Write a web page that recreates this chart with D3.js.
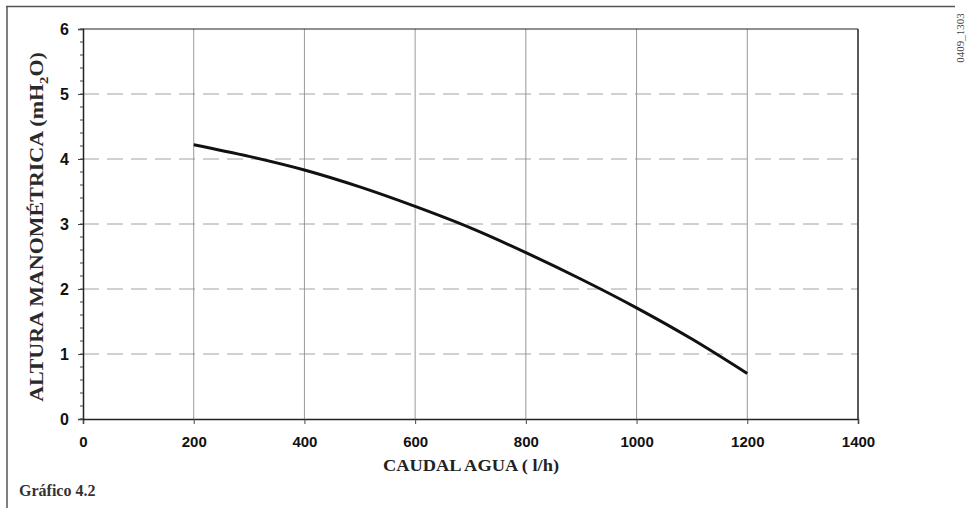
<!DOCTYPE html>
<html><head><meta charset="utf-8">
<script src="https://cdn.jsdelivr.net/npm/d3@7"></script>
<style>body{margin:0;background:#fff}svg{display:block}</style>
</head><body>
<svg id="c" width="974" height="508"></svg>
<script>
const flow = [200, 300, 400, 500, 600, 700, 800, 900, 1000, 1100, 1200];
const head = [4.22, 4.04, 3.83, 3.57, 3.27, 2.94, 2.56, 2.15, 1.71, 1.23, 0.70];
const xTicks = [0, 200, 400, 600, 800, 1000, 1200, 1400];
const yTicks = [0, 1, 2, 3, 4, 5, 6];
const xTitle = "CAUDAL AGUA ( l/h)";
const caption = "Gráfico 4.2";
const code = "0409_1303";

const svg = d3.select("#c");
const x = d3.scaleLinear().domain([0, 1400]).range([83, 858]);
const y = d3.scaleLinear().domain([0, 6]).range([419, 29]);

const serif = "Liberation Serif, Times New Roman, serif";
const sans = "Liberation Sans, Arial, sans-serif";

// outer frame
svg.append("line").attr("x1", 6).attr("x2", 955).attr("y1", 6.5).attr("y2", 6.5).attr("stroke", "#555").attr("stroke-width", 1.5);
svg.append("line").attr("x1", 7).attr("x2", 7).attr("y1", 6).attr("y2", 508).attr("stroke", "#555").attr("stroke-width", 1.5);

// grid
svg.append("g").selectAll("line").data(xTicks.filter(d => d > 0 && d < 1400)).join("line")
  .attr("x1", d => x(d)).attr("x2", d => x(d)).attr("y1", y(6)).attr("y2", y(0))
  .attr("stroke", "#808080").attr("stroke-width", 0.8);
svg.append("g").selectAll("line").data(yTicks.filter(d => d > 0 && d < 6)).join("line")
  .attr("x1", x(0)).attr("x2", x(1400)).attr("y1", d => y(d)).attr("y2", d => y(d))
  .attr("stroke", "#8a8a8a").attr("stroke-width", 0.8).attr("stroke-dasharray", "16,8");

// plot frame top/right
svg.append("line").attr("x1", x(0)).attr("x2", x(1400)).attr("y1", y(6)).attr("y2", y(6)).attr("stroke", "#222").attr("stroke-width", 1.2);
svg.append("line").attr("x1", x(1400)).attr("x2", x(1400)).attr("y1", y(6)).attr("y2", y(0)).attr("stroke", "#222").attr("stroke-width", 1.5);

// axes
const xAxis = d3.axisBottom(x).tickValues(xTicks).tickSize(5).tickPadding(12).tickFormat(d3.format("d"));
const gx = svg.append("g").attr("transform", `translate(0,${y(0)})`).call(xAxis);
gx.select(".domain").attr("stroke", "#222").attr("stroke-width", 1.5);
gx.selectAll(".tick line").attr("stroke", "#444");
gx.selectAll("text").attr("font-family", sans).attr("font-weight", "bold").attr("font-size", 15).attr("fill", "#111");

const yMinor = d3.range(0, 6.01, 0.2).map(v => +v.toFixed(1));
svg.append("g").selectAll("line").data(yMinor).join("line")
  .attr("x1", x(0) - 3).attr("x2", x(0)).attr("y1", d => y(d)).attr("y2", d => y(d))
  .attr("stroke", "#444").attr("stroke-width", 1);

const yAxis = d3.axisLeft(y).tickValues(yTicks).tickSize(5).tickPadding(9).tickFormat(d3.format("d"));
const gy = svg.append("g").attr("transform", `translate(${x(0)},0)`).call(yAxis);
gy.select(".domain").attr("stroke", "#222").attr("stroke-width", 1.5);
gy.selectAll(".tick line").attr("stroke", "#444");
gy.selectAll("text").attr("font-family", sans).attr("font-weight", "bold").attr("font-size", 16).attr("fill", "#111");

// curve
const line = d3.line().x((d, i) => x(flow[i])).y(d => y(d)).curve(d3.curveMonotoneX);
svg.append("path").datum(head).attr("d", line).attr("fill", "none").attr("stroke", "#111").attr("stroke-width", 3);

// titles
svg.append("text").attr("x", 471).attr("y", 471).attr("text-anchor", "middle")
  .attr("font-family", serif).attr("font-weight", "bold").attr("font-size", 17).attr("fill", "#222")
  .attr("textLength", 176).attr("lengthAdjust", "spacingAndGlyphs")
  .text(xTitle);

const yt = svg.append("text").attr("transform", "translate(43,227) rotate(-90)").attr("text-anchor", "middle")
  .attr("font-family", serif).attr("font-weight", "bold").attr("font-size", 18).attr("fill", "#2a2a2a");
yt.append("tspan").text("ALTURA MANOMÉTRICA (mH");
yt.append("tspan").attr("font-size", 12).attr("dy", 5).text("2");
yt.append("tspan").attr("dy", -5).text("O)");
// stretch glyphs along the baseline to match the reference length
const L = yt.node().getComputedTextLength();
if (L > 0) yt.attr("transform", `translate(43,227) rotate(-90) scale(${350 / L},1)`);

svg.append("text").attr("x", 19).attr("y", 496)
  .attr("font-family", serif).attr("font-weight", "bold").attr("font-size", 16).attr("fill", "#333")
  .text(caption);

svg.append("text").attr("transform", "translate(964,38) rotate(-90)").attr("text-anchor", "middle")
  .attr("font-family", serif).attr("font-size", 11).attr("fill", "#444")
  .text(code);
</script>
</body></html>
